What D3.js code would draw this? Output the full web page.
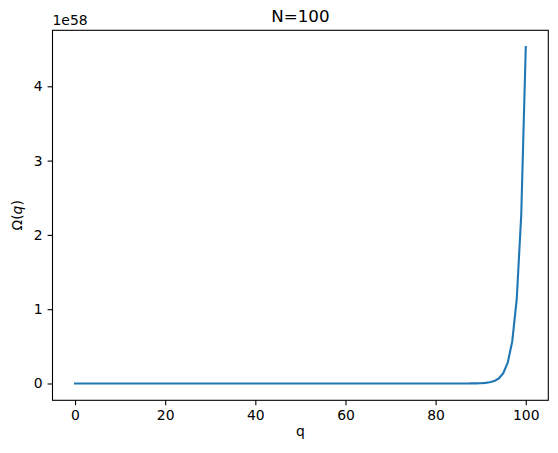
<!DOCTYPE html>
<html>
<head>
<meta charset="utf-8">
<script src="https://cdn.jsdelivr.net/npm/d3@7"></script>
<style>
  body { margin: 0; background: #fff; }
  text { font-family: "DejaVu Sans", sans-serif; fill: #000; }
</style>
</head>
<body>
<div id="chart"></div>
<script>
// q values 0..100 and multiplicity Omega(q) in units of 1e58
var qValues = d3.range(0, 101);
var omegaValues = [
  0, 0, 0, 0, 0, 0, 0, 0, 0, 0,
  0, 0, 0, 0, 0, 0, 0, 0, 0, 0,
  0, 0, 0, 0, 0, 0, 0, 0, 0, 0,
  0, 0, 0, 0, 0, 0, 0, 0, 0, 0,
  0, 0, 0, 0, 0, 0, 0, 0, 0, 0,
  0, 0, 0, 0, 0, 0, 0, 0, 0, 0,
  0, 0, 0, 0, 0, 0, 0, 0, 0, 0,
  0, 0, 0, 0, 0, 0, 0, 0, 0, 0,
  0.000002, 0.000004, 0.000009, 0.00002, 0.00004, 0.000085, 0.00018, 0.00039, 0.00083, 0.00175,
  0.00368, 0.00767, 0.0159, 0.0329, 0.0675, 0.1379, 0.2801, 0.5659, 1.1376, 2.2751,
  4.5274
];
var xTicks = [0, 20, 40, 60, 80, 100];
var yTicks = [0, 1, 2, 3, 4];

var margin = { top: 30.3, right: 9.7, bottom: 52.7, left: 52.5 },
    width = 558 - margin.left - margin.right,
    height = 453 - margin.top - margin.bottom;

var svg = d3.select("#chart")
    .append("svg")
    .attr("width", 558)
    .attr("height", 453)
    .append("g")
    .attr("transform", "translate(" + margin.left + "," + margin.top + ")");

var yMax = d3.max(omegaValues);
var x = d3.scaleLinear().domain([-5, 105]).range([0, width]);
var y = d3.scaleLinear().domain([-0.05 * yMax, yMax * 1.05]).range([height, 0]);

var xAxis = svg.append("g")
    .attr("transform", "translate(0," + height + ")")
    .call(d3.axisBottom(x).tickValues(xTicks).tickSize(4.9).tickPadding(4.9).tickFormat(d3.format("d")));
var yAxis = svg.append("g")
    .call(d3.axisLeft(y).tickValues(yTicks).tickSize(4.9).tickPadding(4.9).tickFormat(d3.format("d")));

[xAxis, yAxis].forEach(function (a) {
    a.select(".domain").remove();
    a.selectAll("line").attr("stroke", "#000").attr("stroke-width", 1.1);
    a.selectAll("text").style("font-size", "13.9px").style("font-family", "DejaVu Sans");
});

var line = d3.line()
    .x(function (d, i) { return x(qValues[i]); })
    .y(function (d) { return y(d); });

svg.append("path")
    .datum(omegaValues)
    .attr("fill", "none")
    .attr("stroke", "#1f77b4")
    .attr("stroke-width", 2.1)
    .attr("stroke-linejoin", "round")
    .attr("stroke-linecap", "square")
    .attr("d", line);

svg.append("rect")
    .attr("width", width)
    .attr("height", height)
    .attr("fill", "none")
    .attr("stroke", "#000")
    .attr("stroke-width", 1.1);

svg.append("text")
    .attr("x", width / 2)
    .attr("y", -8)
    .attr("text-anchor", "middle")
    .style("font-size", "16.7px")
    .text("N=100");

svg.append("text")
    .attr("x", 0)
    .attr("y", -5)
    .style("font-size", "13.9px")
    .text("1e58");

svg.append("text")
    .attr("x", width / 2)
    .attr("y", height + 35.7)
    .attr("text-anchor", "middle")
    .style("font-size", "13.9px")
    .text("q");

var ylab = svg.append("text")
    .attr("transform", "rotate(-90)")
    .attr("x", -height / 2)
    .attr("y", -margin.left + 22)
    .attr("text-anchor", "middle")
    .style("font-size", "13.9px");
ylab.append("tspan").text("Ω(");
ylab.append("tspan").style("font-style", "italic").text("q");
ylab.append("tspan").text(")");
</script>
</body>
</html>
